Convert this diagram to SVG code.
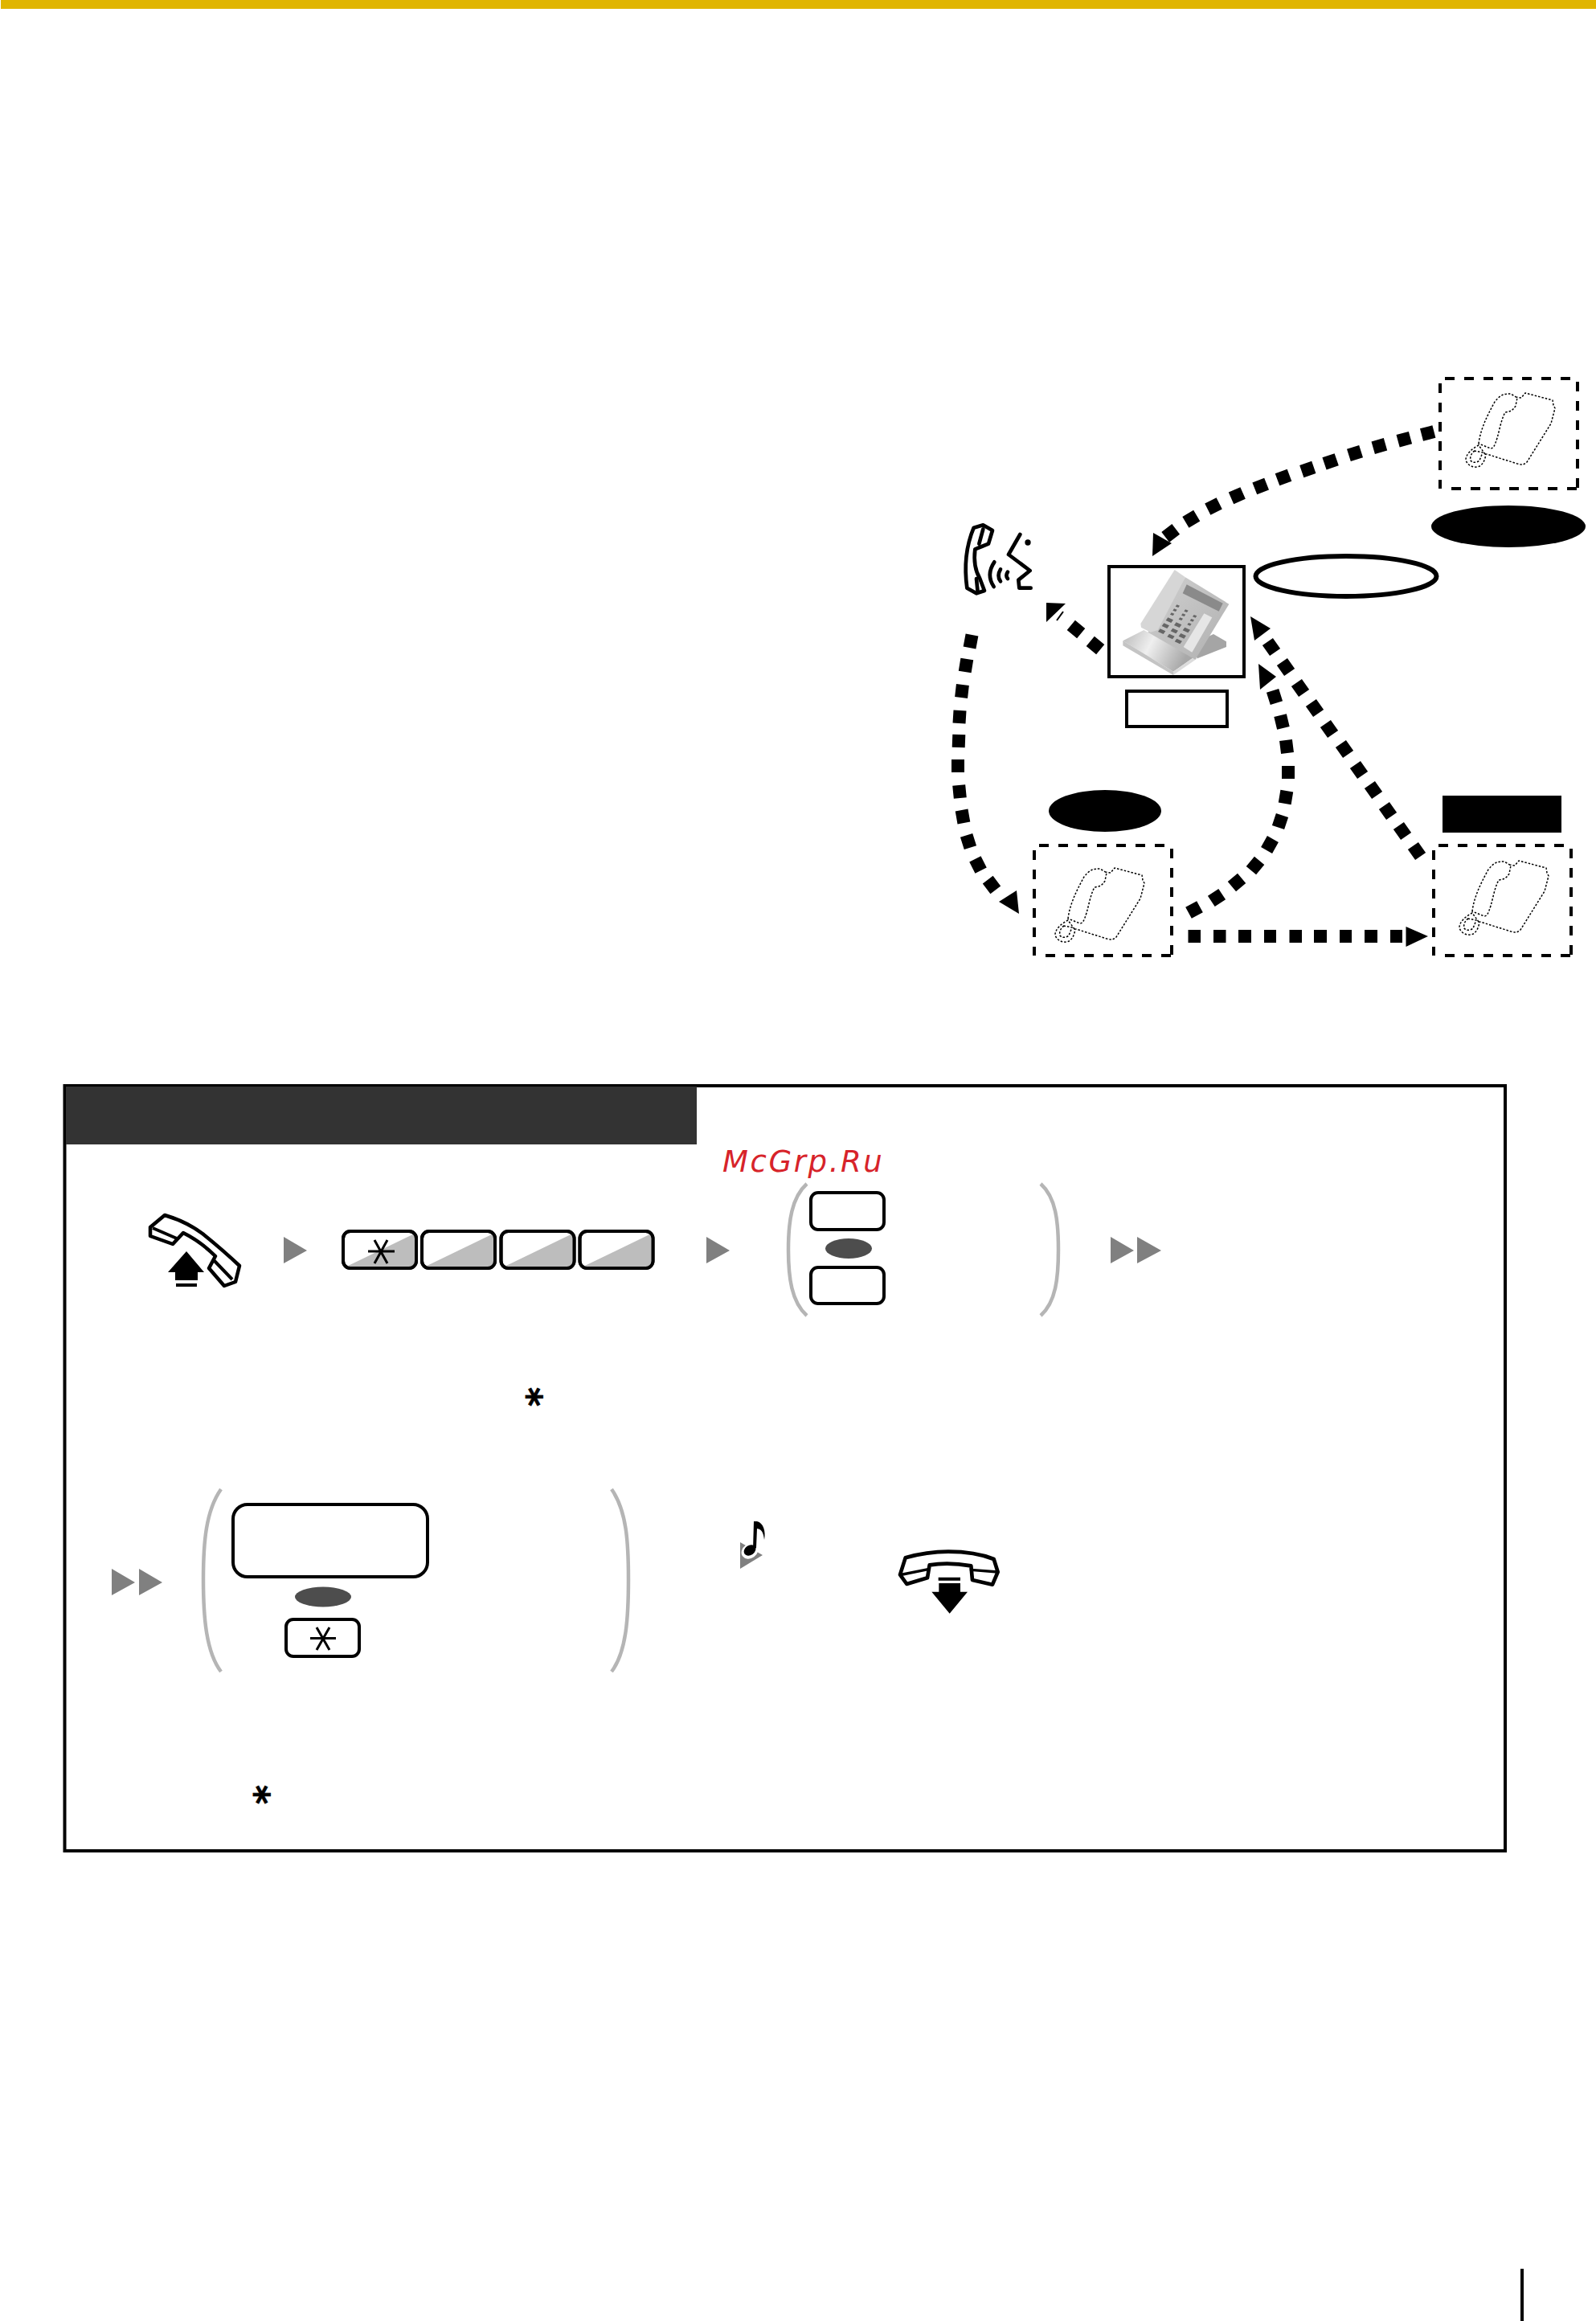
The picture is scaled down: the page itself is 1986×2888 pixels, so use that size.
<svg xmlns="http://www.w3.org/2000/svg" width="1986" height="2888" viewBox="0 0 1986 2888">
<style>
.dash{fill:none;stroke:#000;stroke-width:16}
.ah{fill:#000}
.box{fill:none;stroke:#000;stroke-width:4;stroke-dasharray:12 12}
.dot{fill:none;stroke:#000;stroke-width:1.500;stroke-dasharray:2.500 2}
.brk{fill:none;stroke:#b5b5b5;stroke-width:4.500}
.tri{fill:#808080}
.key{fill:#fff;stroke:#000;stroke-width:4}
.keyo{fill:none;stroke:#000;stroke-width:4}
.shade{fill:#bdbdbd}
.star{stroke:#000;stroke-width:3;fill:none}
.hs{fill:#fff;stroke:#000;stroke-width:4.500;stroke-linejoin:round;stroke-linecap:round}
.oval{fill:#4d4d4d}
.ast{font-family:"DejaVu Sans",sans-serif;font-weight:700;font-size:46px;text-anchor:middle;stroke:#000;stroke-width:.8}
</style>
<defs>
<linearGradient id="gb" x1="0" y1="0" x2="1" y2="0.3"><stop offset="0" stop-color="#b8b8b8"/><stop offset="0.45" stop-color="#efefef"/><stop offset="1" stop-color="#a8a8a8"/></linearGradient>
<linearGradient id="gf" x1="0" y1="0" x2="1" y2="1"><stop offset="0" stop-color="#d0d0d0"/><stop offset="1" stop-color="#b0b0b0"/></linearGradient>
<g id="deskphone-outline">
<path class="dot" d="M1840 552C1842 535 1850 518 1860 500C1868 490 1872 490 1880 490L1888 495L1886 505C1882 512 1878 512 1873 513C1868 522 1866 535 1863 545C1860 555 1858 558 1855 558ZM1886 494L1893 495L1898 489L1932 498L1933 504L1935 508L1930 527L1900 575C1896 579 1893 578 1888 577L1850 565M1848 565L1840 554C1832 558 1824 565 1824 572C1825 578 1832 582 1838 581C1845 580 1848 572 1849 565ZM1835 561C1830 564 1829 570 1830 573C1833 577 1839 575 1841 573L1845 563Z"/>
</g>
<g id="dbox">
<path class="box" d="M1798 471H1958"/>
<path class="box" d="M1806 608H1962"/>
<path class="box" d="M1792 477V608"/>
<path class="box" d="M1963 475V608"/>
</g>
</defs>
<rect width="1986" height="2888" fill="#fff"/>
<rect id="topbar" x="1" width="1985" height="11" fill="#e0b500"/>

<g id="connectors">
<path class="dash" d="M1784.400 537L1769 541M1755 544.600L1739.600 548.800M1724 552.800L1708.700 557.200M1693.600 561.600L1678.400 566.400M1663.200 571.700L1648 576.900M1634.800 581.400L1619.800 586.600M1604.500 591.200L1589.500 596.800M1576.100 602.100L1561.300 607.900M1546.600 613.500L1532 619.900M1517.200 626.400L1502.800 633.600M1489.200 641.600L1475.400 649.800M1463.200 658.300L1450.200 668.300"/>
<path class="ah" d="M1434 692L1435 663L1458 676Z"/>
<path class="dash" d="M1369.200 808.100L1356.800 797.900M1345.200 788.100L1332.800 777.900"/>
<path class="ah" d="M1302 750L1326 751L1302 774Z"/>
<path d="M1315 772L1323 761" stroke="#000" stroke-width="2"/>
<path class="dash" d="M1209.500 790L1206.500 806M1203.300 820L1200.700 836M1197.900 852L1196.100 868M1194.500 884L1193.500 900M1193.300 914L1192.700 930M1192 945V961M1193.200 977L1194.800 993M1196.600 1008L1199.400 1024M1202.600 1039.400L1207.400 1054.600M1213.400 1068.800L1220.600 1083.200M1229.200 1094.600L1238.800 1107.400"/>
<path class="ah" d="M1268 1137L1243 1122L1265 1108Z"/>
<path class="dash" d="M1479 1135.800L1493 1128.200M1507.300 1121.400L1520.700 1112.600M1532.900 1103.100L1545.100 1092.900M1556.900 1083.200L1567.100 1070.800M1576.100 1058L1583.900 1044M1590.500 1029.600L1595.500 1014.400M1598.700 999.900L1601.300 984.100M1603 969V953M1602 936.900L1600 921.100M1596.900 905.800L1593.100 890.200M1588.400 874.600L1583.600 859.400"/>
<path class="ah" d="M1566 826L1588 842L1568 858Z"/>
<path class="dash" d="M1767.600 1065.500L1758.400 1052.500M1749.600 1040.500L1740.400 1027.500M1731.600 1015.500L1722.400 1002.500M1713.600 989.500L1704.400 976.500M1695.600 964.500L1686.400 951.500M1677.600 938.500L1668.400 925.500M1658.600 913.500L1649.400 900.500M1640.600 887.500L1631.400 874.500M1622.600 862.500L1613.400 849.500M1604.600 836.500L1595.400 823.500M1586.600 811.500L1577.400 798.500"/>
<path class="ah" d="M1556 767L1581 782L1561 797Z"/>
<path class="dash" d="M1478.500 1165H1494M1510 1165H1525.500M1541 1165H1557M1573 1165H1588M1604.500 1165H1620M1635 1165H1651M1667 1165H1682M1698 1165H1714M1730 1165H1745"/>
<path class="ah" d="M1777 1165L1749.500 1153V1178Z"/>
</g>

<g id="phone-top"><use href="#dbox"/><use href="#deskphone-outline"/></g>
<g id="phone-left"><use href="#dbox" x="-505" y="581"/><use href="#deskphone-outline" x="-511" y="591"/></g>
<g id="phone-right"><use href="#dbox" x="-8" y="581"/><use href="#deskphone-outline" x="-8" y="582"/></g>

<g id="label-top"><ellipse cx="1877" cy="655" rx="96" ry="26"/></g>
<g id="label-oval"><ellipse cx="1675" cy="717" rx="112.500" ry="25" fill="#fff" stroke="#000" stroke-width="6"/></g>
<g id="label-left"><ellipse cx="1375" cy="1009" rx="70" ry="26"/></g>
<g id="label-right"><rect x="1795" y="990" width="148" height="46"/></g>

<g id="center-phone">
<rect x="1380" y="705" width="168" height="137" fill="#fff" stroke="#000" stroke-width="4"/>
<g transform="translate(1360 690) scale(.33333)">
<path d="M450 297L498 325V345L390 388L360 340Z" fill="#a5a5a5"/>
<path d="M112 322L190 282L375 385L300 437Z" fill="url(#gb)"/>
<path d="M112 322V340L300 450V437Z" fill="#c4c4c4"/>
<path d="M300 437L375 385L390 388L300 450Z" fill="#dcdcdc"/>
<path d="M345 85L508 185L382 392L205 290Z" fill="url(#gf)"/>
<path d="M178 258L305 57L345 85L242 282L215 290L180 272Z" fill="#d6d6d6"/>
<path d="M350 112L485 182L470 212L335 145Z" fill="#8a8a8a"/>
<path d="M415 220L445 235L370 365L338 345Z" fill="#e6e6e6"/>
<g fill="#666">
<path d="M313 187l11 4-5 7-11-4zM303 202l11 4-5 7-11-4zM293 217l11 4-5 7-11-4zM345 205l11 4-5 7-11-4zM335 220l11 4-5 7-11-4zM325 235l11 4-5 7-11-4zM377 225l11 4-5 7-11-4zM367 240l11 4-5 7-11-4zM357 255l11 4-5 7-11-4z"/>
<path d="M280 235l20 9-8 11-20-9zM265 256l20 9-8 11-20-9zM251 277l20 9-8 11-20-9zM311 253l20 9-8 11-20-9zM298 275l20 9-8 11-20-9zM285 296l20 9-8 11-20-9zM343 272l20 9-8 11-20-9zM328 294l20 9-8 11-20-9zM313 314l20 9-8 11-20-9z"/>
</g>
</g>
</g>
<g id="center-label"><rect x="1402" y="860" width="125" height="44" fill="#fff" stroke="#000" stroke-width="4"/></g>

<g id="speaker" transform="translate(1180 640) scale(.33333)" fill="none" stroke="#000" stroke-width="14" stroke-linecap="round" stroke-linejoin="round">
<path d="M95 50C70 110 58 190 70 275L105 295L135 285L118 240C100 210 95 170 100 130L125 120L150 110L165 60L130 40Z"/>
<path d="M130 55L115 110M105 240L110 290"/>
<path d="M172 178Q140 225 170 270M195 205Q180 230 195 250M222 215Q212 230 222 240"/>
<path d="M268 75L225 150L265 180L305 210L262 245L265 275H308"/>
<circle cx="297" cy="105" r="4" fill="#000"/>
</g>

<g id="panel">
<rect x="80.500" y="1351" width="1792.500" height="952" fill="#fff" stroke="#000" stroke-width="4"/>
<rect x="82" y="1352" width="785" height="72" fill="#333"/>
</g>
<text x="899" y="1458" fill="#d7232a" font-family="DejaVu Sans,sans-serif" font-style="italic" font-size="37" letter-spacing="2.600">McGrp.Ru</text>

<g id="offhook">
<path class="hs" d="M205 1512Q232 1520 252 1535Q278 1556 298 1575L293 1595L279 1600L260 1578L268 1563Q250 1545 228 1534L215 1548L187 1538L187 1527Z"/>
<path d="M190 1528L220 1541M266 1568L289 1592" stroke="#000" stroke-width="4"/>
<path d="M232 1557L209 1583H218V1593H246V1583H254Z"/>
<rect x="219" y="1597" width="26" height="4"/>
</g>
<path class="tri" d="M353 1539L382 1556L353 1572Z"/>

<g id="key-star">
<rect class="key" x="427" y="1532" width="91" height="46" rx="9"/>
<path class="shade" d="M427 1578L518 1534V1569Q518 1578 509 1578Z"/>
<rect class="keyo" x="427" y="1532" width="91" height="46" rx="9"/>
<path class="star" d="M458 1557H491M466 1543L482 1572M482 1543L466 1572"/>
</g>
<g id="key-2"><rect class="key" x="525" y="1532" width="91" height="46" rx="9"/><path class="shade" d="M525 1578L616 1534V1569Q616 1578 607 1578Z"/><rect class="keyo" x="525" y="1532" width="91" height="46" rx="9"/></g>
<g id="key-3"><rect class="key" x="623.500" y="1532" width="91" height="46" rx="9"/><path class="shade" d="M623.500 1578L714.500 1534V1569Q714.500 1578 705.500 1578Z"/><rect class="keyo" x="623.500" y="1532" width="91" height="46" rx="9"/></g>
<g id="key-4"><rect class="key" x="721.500" y="1532" width="91" height="46" rx="9"/><path class="shade" d="M721.500 1578L812.500 1534V1569Q812.500 1578 803.500 1578Z"/><rect class="keyo" x="721.500" y="1532" width="91" height="46" rx="9"/></g>
<text class="ast" transform="translate(661.500 1738) rotate(90)" y="21">*</text>

<path class="tri" d="M879 1539L908 1556L879 1572Z"/>
<path class="brk" d="M1004 1473C985 1490 981 1520 981 1555C981 1590 985 1620 1004 1637"/>
<path class="brk" d="M1295 1473C1314 1490 1317 1520 1317 1555C1317 1590 1314 1620 1295 1637"/>
<rect class="key" id="k-a" x="1009" y="1484" width="91" height="46" rx="9"/>
<ellipse class="oval" cx="1056" cy="1553.500" rx="29" ry="12.500"/>
<rect class="key" id="k-b" x="1009" y="1577" width="91" height="45" rx="9"/>
<path class="tri" d="M1382 1539L1411 1556L1382 1572ZM1415 1539L1445 1556L1415 1572Z"/>

<path class="tri" d="M139 1952L168 1969L139 1985ZM173 1952L202 1969L173 1985Z"/>
<path class="brk" d="M275 1853C256 1880 253 1920 253 1965C253 2010 256 2055 275 2080"/>
<path class="brk" d="M761 1853C780 1880 782 1920 782 1965C782 2010 780 2055 761 2080"/>
<rect class="key" x="290" y="1872" width="242" height="90" rx="18"/>
<ellipse class="oval" cx="402" cy="1987" rx="35" ry="12.500"/>
<g id="key-star2">
<rect class="key" x="356" y="2015" width="91" height="46" rx="9"/>
<path class="star" d="M386 2038.500H418M394 2025L410 2053M410 2025L394 2053"/>
</g>
<text class="ast" transform="translate(323 2233) rotate(90)" y="21">*</text>

<g id="note">
<path class="tri" d="M921 1919L949 1935L921 1952Z"/>
<ellipse cx="933" cy="1930" rx="11" ry="9" fill="#fff" transform="rotate(-35 933 1930)"/>
<ellipse cx="933" cy="1929" rx="8" ry="6" transform="rotate(-35 933 1929)"/>
<path d="M937 1928L938 1893H942C950 1895 953 1905 951 1916C950 1907 948 1903 942 1902L941 1926Z"/>
</g>
<g id="onhook">
<g transform="translate(880 1860) scale(.33333)">
<path class="hs" d="M740 235Q820 212 900 212Q1000 212 1070 240L1085 288L1065 335L990 318L985 265Q900 250 830 262L822 310L745 333L720 298Z" style="stroke-width:14"/>
<path class="hs" style="stroke-width:10;fill:none" d="M730 297L825 278M985 280L1085 288"/>
<path d="M863 308H945V320H863ZM865 330H945V362H972L905 443L838 362H865Z"/>
</g>
</g>
<rect id="pagebar" x="1892" y="2823" width="4" height="65"/>
</svg>
